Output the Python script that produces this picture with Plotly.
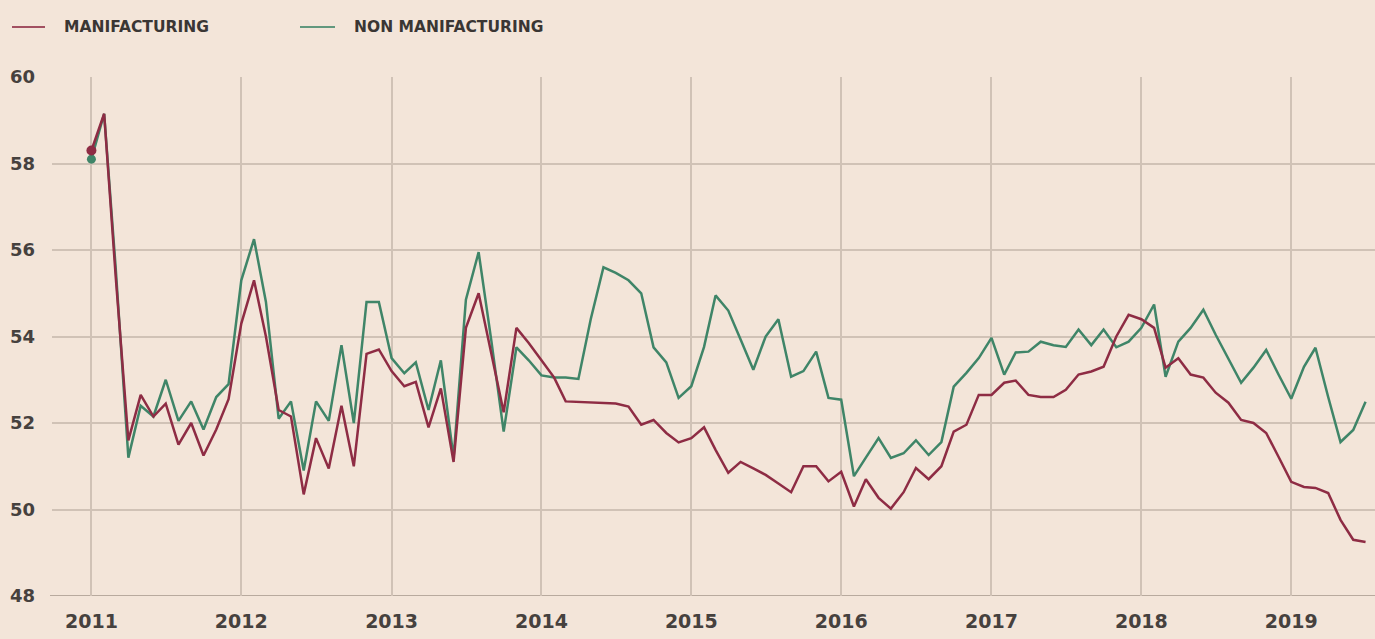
import pandas as pd
import plotly.graph_objects as go

# Monthly PMI readings, January 2011 to July 2019
months = pd.date_range("2011-01-01", "2019-07-01", freq="MS")

manufacturing = [
    # 2011
    58.3, 59.15, 55.4, 51.6, 52.65, 52.15, 52.45, 51.5, 52.0, 51.25, 51.85, 52.55,
    # 2012
    54.3, 55.3, 54.0, 52.3, 52.15, 50.35, 51.65, 50.95, 52.4, 51.0, 53.6, 53.7,
    # 2013
    53.2, 52.85, 52.95, 51.9, 52.8, 51.1, 54.2, 55.0, 53.6, 52.25, 54.2, 53.85,
    # 2014
    53.45, 53.05, 52.5, 52.49, 52.48, 52.47, 52.45, 52.38, 51.96, 52.07, 51.77, 51.55,
    # 2015
    51.65, 51.9, 51.38, 50.85, 51.1, 50.95, 50.8, 50.6, 50.4, 51.0, 51.0, 50.65,
    # 2016
    50.87, 50.07, 50.7, 50.27, 50.02, 50.4, 50.96, 50.7, 51.0, 51.8, 51.96, 52.65,
    # 2017
    52.65, 52.93, 52.98, 52.65, 52.6, 52.6, 52.77, 53.12, 53.19, 53.3, 54.0, 54.5,
    # 2018
    54.4, 54.2, 53.28, 53.5, 53.12, 53.05, 52.7, 52.47, 52.07, 52.0, 51.77, 51.22,
    # 2019
    50.64, 50.52, 50.5, 50.38, 49.76, 49.3, 49.25,
]

non_manufacturing = [
    # 2011
    58.1, 59.15, 55.6, 51.2, 52.4, 52.15, 53.0, 52.05, 52.5, 51.85, 52.6, 52.9,
    # 2012
    55.3, 56.25, 54.8, 52.1, 52.5, 50.9, 52.5, 52.05, 53.8, 52.0, 54.8, 54.8,
    # 2013
    53.5, 53.15, 53.4, 52.3, 53.45, 51.2, 54.85, 55.95, 53.9, 51.8, 53.75, 53.45,
    # 2014
    53.1, 53.05, 53.05, 53.02, 54.4, 55.6, 55.47, 55.3, 55.0, 53.75, 53.4, 52.58,
    # 2015
    52.85, 53.76, 54.95, 54.6, 53.93, 53.23, 54.0, 54.4, 53.07, 53.2, 53.65, 52.58,
    # 2016
    52.54, 50.77, 51.2, 51.65, 51.19, 51.3, 51.6, 51.26, 51.56, 52.84, 53.16, 53.5,
    # 2017
    53.97, 53.12, 53.63, 53.65, 53.88, 53.8, 53.76, 54.16, 53.8, 54.16, 53.75, 53.88,
    # 2018
    54.2, 54.74, 53.07, 53.88, 54.2, 54.62, 54.04, 53.5, 52.93, 53.28, 53.69, 53.12,
    # 2019
    52.56, 53.3, 53.74, 52.6, 51.56, 51.84, 52.49,
]

series_names = ["MANIFACTURING", "NON MANIFACTURING"]

year_ticks = pd.date_range("2011-01-01", "2019-01-01", freq="YS")
year_labels = [str(d.year) for d in year_ticks]
value_ticks = [48, 50, 52, 54, 56, 58, 60]

MANUF = "#8e2c44"
NONMANUF = "#3f8568"
BG = "#f3e5d9"
GRID = "#d0c2b6"
TEXT = "#46413e"
FONT = "DejaVu Sans, sans-serif"

W, H = 1375, 639
M_L, M_R, M_T, M_B = 52, 0, 77, 43
PLOT_W = W - M_L - M_R
PLOT_H = H - M_T - M_B


def px_x(px):
    return (px - M_L) / PLOT_W


def px_y(py):
    return (H - M_B - py) / PLOT_H


fig = go.Figure()

fig.add_trace(go.Scatter(
    x=months, y=non_manufacturing, name=series_names[1],
    mode="lines", line=dict(color=NONMANUF, width=2.5),
))
fig.add_trace(go.Scatter(
    x=months, y=manufacturing, name=series_names[0],
    mode="lines", line=dict(color=MANUF, width=2.5),
))

# starting-point dots
fig.add_trace(go.Scatter(
    x=months[:1], y=non_manufacturing[:1], mode="markers",
    marker=dict(color=NONMANUF, size=9),
))
fig.add_trace(go.Scatter(
    x=months[:1], y=manufacturing[:1], mode="markers",
    marker=dict(color=MANUF, size=10),
))

fig.update_layout(
    width=W, height=H,
    paper_bgcolor=BG, plot_bgcolor=BG,
    margin=dict(l=M_L, r=M_R, t=M_T, b=M_B),
    font=dict(family=FONT, color=TEXT),
    showlegend=False,
    xaxis=dict(
        range=["2010-09-27", "2019-07-24"],
        tickvals=year_ticks, ticktext=year_labels,
        showgrid=True, gridcolor=GRID, gridwidth=1.5,
        zeroline=False, showline=False,
        tickfont=dict(size=19, color=TEXT, family=FONT, weight="bold"),
        ticks="", ticklabelstandoff=12,
    ),
    yaxis=dict(
        range=[48, 60],
        tickvals=value_ticks,
        showgrid=True, gridcolor=GRID, gridwidth=1.5,
        zeroline=False, showline=False,
        tickfont=dict(size=18, color=TEXT, family=FONT, weight="bold"),
        ticks="", ticklabelstandoff=16,
    ),
)

# darker baseline along 48
fig.add_shape(type="line", xref="paper", yref="y", x0=px_x(50), x1=1, y0=48, y1=48,
              line=dict(color="#b8aa9e", width=2), layer="below")

# legend drawn as short line keys with labels
legend_items = [
    (series_names[0], MANUF, 12, 45, 62),
    (series_names[1], NONMANUF, 300, 335, 352),
]
for label, color, lx0, lx1, tx in legend_items:
    fig.add_shape(type="line", xref="paper", yref="paper",
                  x0=px_x(lx0), x1=px_x(lx1), y0=px_y(27), y1=px_y(27),
                  line=dict(color=color, width=2.2), opacity=0.8)
    fig.add_annotation(text=label, xref="paper", yref="paper",
                       x=px_x(tx), y=px_y(27), xanchor="left", yanchor="middle",
                       showarrow=False,
                       font=dict(size=15.5, color="#3a3634", family=FONT, weight="bold"))

fig.write_html("out.html")
